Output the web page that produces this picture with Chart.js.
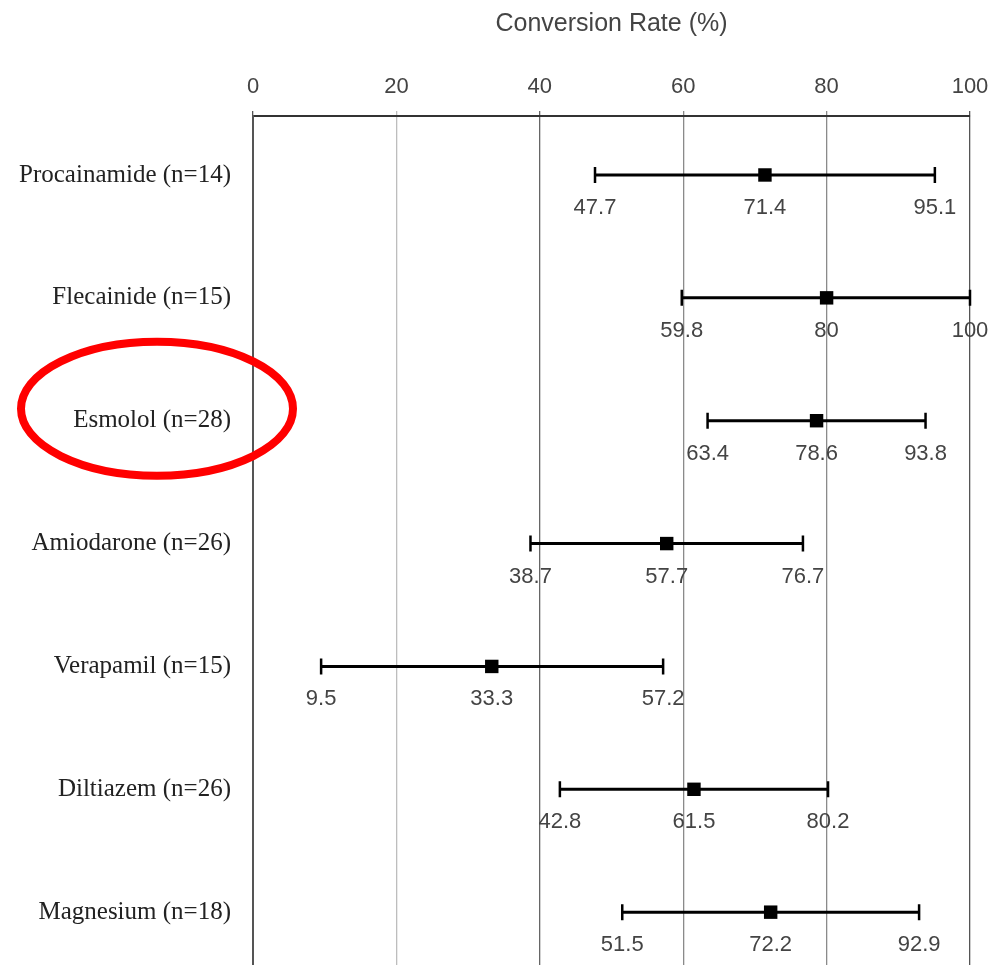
<!DOCTYPE html>
<html>
<head>
<meta charset="utf-8">
<script src="https://cdn.jsdelivr.net/npm/chart.js@4.4.0/dist/chart.umd.min.js"></script>
<style>
  body { margin: 0; background: #fff; }
</style>
</head>
<body>
<canvas id="forest" width="992" height="965"></canvas>
<script>
// datos
var drogas = ['Procainamide (n=14)', 'Flecainide (n=15)', 'Esmolol (n=28)', 'Amiodarone (n=26)', 'Verapamil (n=15)', 'Diltiazem (n=26)', 'Magnesium (n=18)'];
var tasa = [71.4, 80, 78.6, 57.7, 33.3, 61.5, 72.2];
var inferior = [47.7, 59.8, 63.4, 38.7, 9.5, 42.8, 51.5];
var superior = [95.1, 100, 93.8, 76.7, 57.2, 80.2, 92.9];
var ticksX = [0, 20, 40, 60, 80, 100];
var resaltado = 2; // Esmolol

var puntos = new Array();
for (var i = 0; i < tasa.length; i++) {
    puntos.push({ x: tasa[i], y: i });
}

// color de cada linea vertical
function colorGrid(ctx) {
    var v = ctx.tick ? ctx.tick.value : 0;
    if (v == 0 || v == 100) return '#555';
    if (v == 20) return '#bdbdbd';
    if (v == 40) return '#666';
    return '#8a8a8a';
}

// barras de error + etiquetas
const barrasError = {
    id: 'barrasError',
    beforeDatasetsDraw: function (chart) {
        var ctx = chart.ctx;
        var sx = chart.scales.x, sy = chart.scales.y;
        ctx.save();
        ctx.strokeStyle = '#000';
        for (var i = 0; i < tasa.length; i++) {
            var y = sy.getPixelForValue(i);
            var x1 = sx.getPixelForValue(inferior[i]);
            var x2 = sx.getPixelForValue(superior[i]);
            ctx.lineWidth = 3;
            ctx.beginPath();
            ctx.moveTo(x1, y);
            ctx.lineTo(x2, y);
            ctx.stroke();
            ctx.lineWidth = 2.5;
            ctx.beginPath();
            ctx.moveTo(x1, y - 8);
            ctx.lineTo(x1, y + 8);
            ctx.moveTo(x2, y - 8);
            ctx.lineTo(x2, y + 8);
            ctx.stroke();
        }
        ctx.restore();
    },
    afterDatasetsDraw: function (chart) {
        var ctx = chart.ctx;
        var sx = chart.scales.x, sy = chart.scales.y;
        ctx.save();
        ctx.font = '22px "Liberation Sans", Arial, sans-serif';
        ctx.fillStyle = '#444';
        ctx.textAlign = 'center';
        ctx.textBaseline = 'middle';
        for (var i = 0; i < tasa.length; i++) {
            var y = sy.getPixelForValue(i) + 33;
            [inferior[i], tasa[i], superior[i]].forEach(function (v) {
                ctx.fillText(String(v), sx.getPixelForValue(v), y);
            });
        }
        ctx.restore();
    },
    afterDraw: function (chart) {
        // ovalo rojo alrededor de la etiqueta resaltada
        var ctx = chart.ctx;
        var sy = chart.scales.y;
        var cy = sy.getPixelForValue(resaltado) - 12;
        var cx = chart.chartArea.left - 96;
        ctx.save();
        ctx.strokeStyle = '#ff0000';
        ctx.lineWidth = 8;
        ctx.beginPath();
        ctx.ellipse(cx, cy, 136, 67, 0, 0, Math.PI * 2);
        ctx.stroke();
        ctx.restore();
    }
};

const grafico = new Chart('forest', {
    type: 'scatter',
    data: {
        datasets: [{
            label: 'Conversion Rate',
            data: puntos,
            pointStyle: 'rect',
            pointRadius: 9.5,
            pointHoverRadius: 9.5,
            backgroundColor: '#000',
            borderColor: '#000',
            borderWidth: 0
        }]
    },
    options: {
        responsive: false,
        animation: false,
        events: [],
        layout: { autoPadding: false, padding: { top: 0, right: 22, bottom: 0, left: 0 } },
        plugins: {
            legend: { display: false },
            tooltip: { enabled: false }
        },
        scales: {
            x: {
                type: 'linear',
                position: 'top',
                min: 0,
                max: 100,
                afterBuildTicks: function (scale) {
                    scale.ticks = ticksX.map(function (v) { return { value: v }; });
                },
                ticks: {
                    color: '#444',
                    padding: 11,
                    font: { family: '"Liberation Sans", Arial, sans-serif', size: 22 }
                },
                grid: {
                    color: colorGrid,
                    lineWidth: 1.3,
                    tickLength: 5
                },
                border: { display: true, color: '#333', width: 2 },
                title: {
                    display: true,
                    text: 'Conversion Rate (%)',
                    color: '#444',
                    font: { family: '"Liberation Sans", Arial, sans-serif', size: 25 },
                    padding: { top: 9, bottom: 0 }
                },
                afterFit: function (scale) {
                    scale.height = 116;
                    scale.paddingLeft = 0;
                    scale.paddingRight = 0;
                }
            },
            y: {
                type: 'linear',
                reverse: true,
                min: -0.48,
                max: 6.43,
                afterBuildTicks: function (scale) {
                    scale.ticks = drogas.map(function (d, i) { return { value: i }; });
                },
                ticks: {
                    color: '#222',
                    padding: 14,
                    font: { family: '"Liberation Serif", "Times New Roman", serif', size: 25 },
                    callback: function (val) { return drogas[val]; }
                },
                grid: { display: false },
                border: { display: true, color: '#555', width: 2 },
                afterFit: function (scale) {
                    scale.width = 253;
                    scale.paddingTop = 0;
                    scale.paddingBottom = 0;
                }
            }
        }
    },
    plugins: [barrasError]
});
</script>
</body>
</html>
